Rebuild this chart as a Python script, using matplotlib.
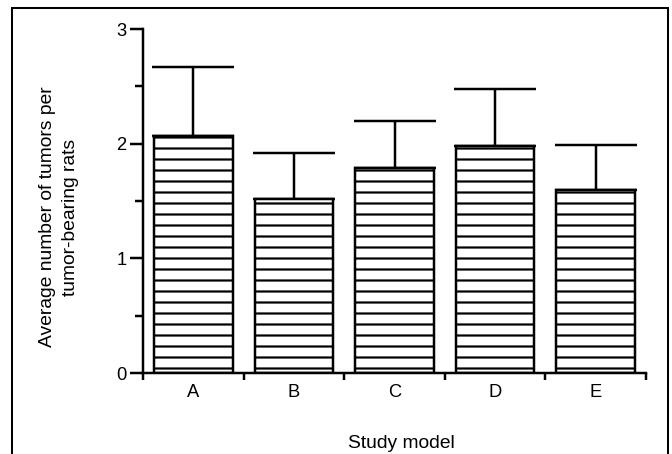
import matplotlib
matplotlib.use("Agg")
import matplotlib.pyplot as plt
from matplotlib.patches import Rectangle

# data
models = ["A", "B", "C", "D", "E"]
means = [2.07, 1.52, 1.79, 1.98, 1.60]
upper_err = [0.60, 0.40, 0.41, 0.50, 0.39]

plt.rcParams['font.family'] = ['Liberation Sans', 'DejaVu Sans']
plt.rcParams['hatch.linewidth'] = 2.4
plt.rcParams['hatch.color'] = 'black'

DPI = 66  # '-' hatch gives 6 lines/inch -> 11 px stripes at this dpi
fig = plt.figure(figsize=(672 / DPI, 454 / DPI), dpi=DPI, facecolor='white')
ax = fig.add_axes([143 / 672, 1 - 373 / 454, 503 / 672, 344 / 454])

pos = [i + 0.5 for i in range(len(models))]
ax.bar(pos, means, width=0.78, color='white', edgecolor='black',
       linewidth=2.7, hatch='-', zorder=2)
ax.errorbar(pos, means, yerr=[[0] * len(means), upper_err], fmt='none',
            ecolor='black', elinewidth=2.7, capsize=45, capthick=2.7, zorder=1)

ax.set_xlim(0, 5)
ax.set_ylim(0, 3)

# x: ticks on the category boundaries, labels in the middle
ax.set_xticks(range(6))
ax.set_xticklabels([])
ax.set_xticks(pos, minor=True)
ax.set_xticklabels(models, minor=True, fontsize=20)
ax.tick_params(axis='x', which='major', direction='out', length=8, width=2.7)
ax.tick_params(axis='x', which='minor', length=0, pad=12)

ax.set_yticks([0, 1, 2, 3])
ax.set_yticks([0.5, 1.5, 2.5], minor=True)
ax.tick_params(axis='y', which='major', direction='out', length=14, width=2.7,
               labelsize=20, pad=4)
ax.tick_params(axis='y', which='minor', direction='out', length=9, width=2.7)

for side in ['top', 'right']:
    ax.spines[side].set_visible(False)
for side in ['left', 'bottom']:
    ax.spines[side].set_linewidth(2.7)

fig.text(59 / 672, 1 - 217 / 454,
         "Average number of tumors per\ntumor-bearing rats",
         rotation=90, ha='center', va='center', multialignment='center',
         fontsize=21, linespacing=1.4)
fig.text(401 / 672, 1 - 443 / 454, "Study model", ha='center', va='center',
         fontsize=21)

# outer frame of the printed figure (bottom edge falls off the page)
fig.patches.append(Rectangle((12 / 672, -0.05), 656 / 672, 1.05 - 8 / 454,
                             transform=fig.transFigure, fill=False,
                             edgecolor='black', linewidth=2.2))

fig.savefig("out.png", dpi=DPI, facecolor='white')
